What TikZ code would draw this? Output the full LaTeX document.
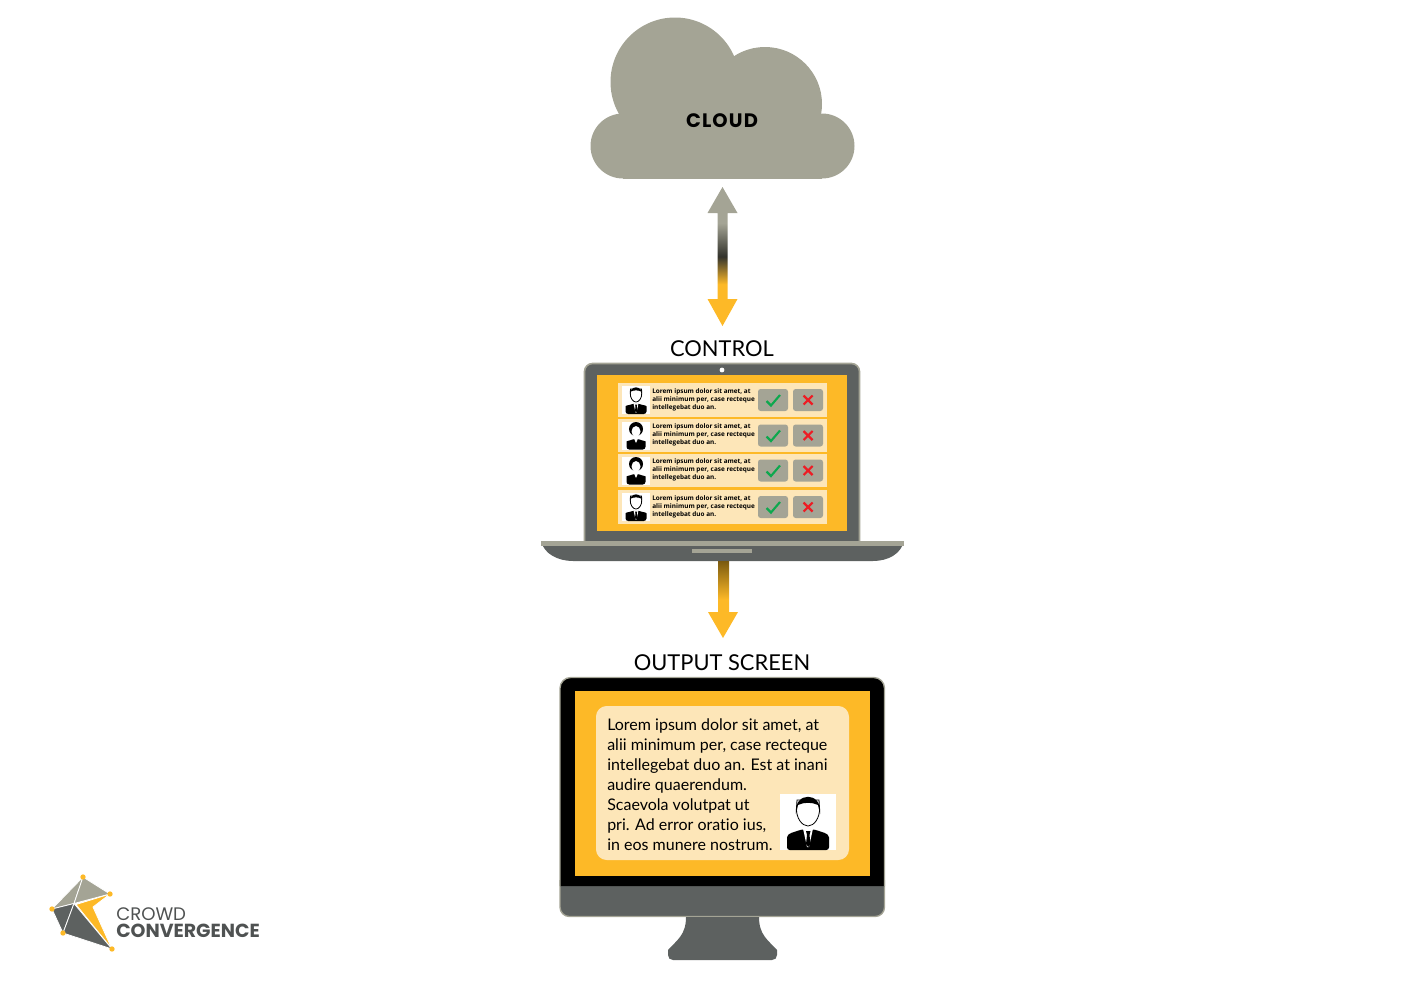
\documentclass[tikz,border=0pt]{standalone}
\usepackage{fontspec}
\setmainfont[Ligatures=NoCommon]{Lato}
\newfontfamily\logofont{Poppins}
\newfontfamily\cloudfont[LetterSpace=6]{Poppins}
\newfontfamily\rowfont{Open Sans}
\definecolor{cloudgray}{HTML}{A4A495}
\definecolor{slate}{HTML}{5D6160}
\definecolor{amber}{HTML}{FDB927}
\definecolor{cream}{HTML}{FDE6B8}
\definecolor{okgreen}{HTML}{0DA84E}
\definecolor{nored}{HTML}{ED1C24}
\definecolor{linkdark}{HTML}{33332C}
\definecolor{linkbrown}{HTML}{7A5A10}
\pgfdeclareverticalshading{cloudlink}{100bp}{color(0bp)=(amber); color(40bp)=(amber); color(50bp)=(linkdark); color(62bp)=(cloudgray); color(100bp)=(cloudgray)}
\pgfdeclareverticalshading{outputlink}{100bp}{color(0bp)=(amber); color(50bp)=(amber); color(75bp)=(linkbrown); color(100bp)=(linkbrown)}
\tikzset{
    pics/man/.style={code={
        \fill[white] (0,0) rectangle (56,56);
        \draw[black,fill=white,line width=.6pt] (17,6) -- (16.5,14) .. controls (16,24) and (22,32) .. (28,32) .. controls (34,32) and (40,24) .. (39.5,14) -- (39,6) -- cycle;
        \fill[black] (16,20) .. controls (13,-3) and (43,-3) .. (40,20) -- (38,11) .. controls (32,8) and (24,8) .. (18,11) -- cycle;
        \fill[black,rounded corners=2] (7,56) -- (7,46) .. controls (7,39) and (15,38) .. (21,35.5) -- (35,35.5) .. controls (41,38) and (49,39) .. (49,46) -- (49,56) -- cycle;
        \fill[white] (23,34.5) -- (33,34.5) -- (29,53) -- (27,53) -- cycle;
        \fill[black] (26,37) -- (30.5,37) -- (29.5,41) -- (30.5,50) -- (28.2,53) -- (26,50) -- (27,41) -- cycle;
    }},
    pics/woman/.style={code={
        \fill[white] (0,0) rectangle (56,56);
        \fill[black] (28,15) circle (14);
        \fill[white] (28,20) ellipse (9 and 11);
        \fill[black,rounded corners=2] (9,56) -- (9,45) .. controls (9,39) and (16,38) .. (22,35) -- (34,35) .. controls (40,38) and (47,39) .. (47,45) -- (47,56) -- cycle;
        \fill[white] (24,34) -- (32,34) -- (28,43) -- cycle;
    }}
}

\begin{document}
\begin{tikzpicture}[
        x=0.75pt,y=-0.75pt,
        label text/.style={font=\fontsize{16.4}{18}\selectfont,inner sep=0pt},
        row text/.style={font=\rowfont\bfseries\fontsize{4.8}{5.9}\selectfont,align=left,anchor=west,inner sep=0pt},
        button/.style={fill=cloudgray,rounded corners=2pt,minimum width=22.5pt,minimum height=16.5pt,inner sep=0pt},
        logo dot/.style={circle,fill=amber,minimum size=4pt,inner sep=0pt},
        logo part/.style={draw=white,line width=.6pt,line join=round}
    ]
    \useasboundingbox (0,0) rectangle (1403,992);

    % cloud
    \fill[cloudgray] (675,82) circle (64.5);
    \fill[cloudgray] (765,104) circle (57);
    \fill[cloudgray] (623,146) circle (32.5);
    \fill[cloudgray] (822,146) circle (32.5);
    \fill[cloudgray] (623,115) rectangle (822,178.5);
    \node[font=\cloudfont\bfseries\fontsize{14.6}{16}\selectfont,inner sep=0pt] (cloud) at (722,120.5) {CLOUD};

    % cloud to laptop
    \coordinate (cloudend) at (722.5,187);
    \coordinate (controlend) at (722.5,326);
    \shade[shading=cloudlink] (cloudend) -- (737.5,213) -- (727.5,213) -- (727.5,299) -- (737.5,299) -- (controlend)
        -- (707.5,299) -- (717.5,299) -- (717.5,213) -- (707.5,213) -- cycle;

    \node[label text] (control) at (722,348.5) {CONTROL};

    % laptop
    \draw[cloudgray,fill=slate,line width=1.2pt,rounded corners=6pt] (584.5,543) -- (584.5,363.5) -- (859.5,363.5) -- (859.5,543);
    \fill[amber] (597,375) rectangle (847,531);
    \fill[white] (722,370) circle (2.4);
    \fill[slate] (541,541) .. controls (544,554) and (558,561) .. (573,561) -- (873,561) .. controls (888,561) and (901,554) .. (904,541) -- cycle;
    \fill[cloudgray] (541,541) rectangle (904,545.5);
    \fill[cloudgray] (692,549) rectangle (752,553);

    \foreach \rownum/\rowtop/\who in {1/383/man,2/418.5/woman,3/453.5/woman,4/490/man}{
        \fill[cream] (618,\rowtop) rectangle (827,\rowtop+33.5);
        \pic[scale=.5] at (622,\rowtop+3) {\who};
        \node[row text] (rowtext\rownum) at (652,\rowtop+16.5) {Lorem ipsum dolor sit amet, at\\alii minimum per, case recteque\\intellegebat duo an.};
        \node[button] (ok\rownum) at (773,\rowtop+17) {};
        \node[button] (no\rownum) at (808,\rowtop+17) {};
        \draw[okgreen,line width=1.6pt] ([shift={(-6.5,1)}]ok\rownum.center) -- ([shift={(-2,5.5)}]ok\rownum.center) -- ([shift={(7,-5)}]ok\rownum.center);
        \draw[nored,line width=1.6pt] ([shift={(-4.5,-4.5)}]no\rownum.center) -- ([shift={(4.5,4.5)}]no\rownum.center)
            ([shift={(-4.5,4.5)}]no\rownum.center) -- ([shift={(4.5,-4.5)}]no\rownum.center);
    }

    % laptop to monitor
    \coordinate (laptopend) at (723.5,561);
    \coordinate (outputend) at (723,638);
    \shade[shading=outputlink] (718,561) -- (laptopend) -- (729,561) -- (729,612) -- (738,612) -- (outputend) -- (708,612) -- (718,612) -- cycle;

    \node[label text] (output) at (722,662.5) {OUTPUT SCREEN};

    % monitor
    \draw[cloudgray,fill=slate,line width=1pt,rounded corners=7pt] (560,880) -- (560,916.5) -- (884.5,916.5) -- (884.5,880);
    \draw[cloudgray,fill=black,line width=1pt,rounded corners=8pt] (560,886) -- (560,677.5) -- (884.5,677.5) -- (884.5,886);
    \fill[amber] (575,691) rectangle (870,876);
    \fill[slate] (686,917) .. controls (686,935) and (677,940) .. (668,950) -- (668,955) .. controls (668,958) and (670,960) .. (673,960) -- (772,960) .. controls (775,960) and (777,958) .. (777,955) -- (777,950) .. controls (768,940) and (759,935) .. (759,917) -- cycle;
    \fill[cream,rounded corners=8pt] (596,706) rectangle (849,860);
    \node[font=\fontsize{12}{15}\selectfont,align=left,anchor=north west,inner sep=0pt] (message) at (607,718)
        {Lorem ipsum dolor sit amet, at\\alii minimum per, case recteque\\intellegebat duo an. Est at inani\\audire quaerendum.\\Scaevola volutpat ut\\pri. Ad error oratio ius,\\in eos munere nostrum.};
    \pic at (780,794) {man};

    % logo
    \coordinate (logotop) at (83,877);
    \coordinate (logoright) at (110,894);
    \coordinate (logoleft) at (52,909);
    \coordinate (logomid) at (74,903.5);
    \coordinate (logolow) at (63,933);
    \coordinate (logotip) at (112,949);
    \fill[cloudgray,logo part] (logotop) -- (logomid) -- (logoleft) -- cycle;
    \fill[cloudgray,logo part] (logotop) -- (logoright) -- (logomid) -- cycle;
    \fill[amber,logo part] (logoright) -- (76,904.5) -- (logotip) -- (93,907) -- cycle;
    \fill[slate,logo part] (logoleft) -- (logomid) -- (logolow) -- cycle;
    \fill[slate,logo part] (logomid) -- (logotip) -- (logolow) -- cycle;
    \foreach \dotname in {logotop,logoright,logoleft,logolow,logotip}
        \node[logo dot] (\dotname dot) at (\dotname) {};
    \node[font=\logofont\fontsize{13.6}{14}\selectfont,text=slate!85!black,anchor=west,inner sep=0pt] (crowd) at (116,914) {CROWD};
    \node[font=\logofont\bfseries\fontsize{14.2}{14}\selectfont,text=slate!85!black,anchor=west,inner sep=0pt] (convergence) at (116,930.5) {CONVERGENCE};
\end{tikzpicture}
\end{document}
